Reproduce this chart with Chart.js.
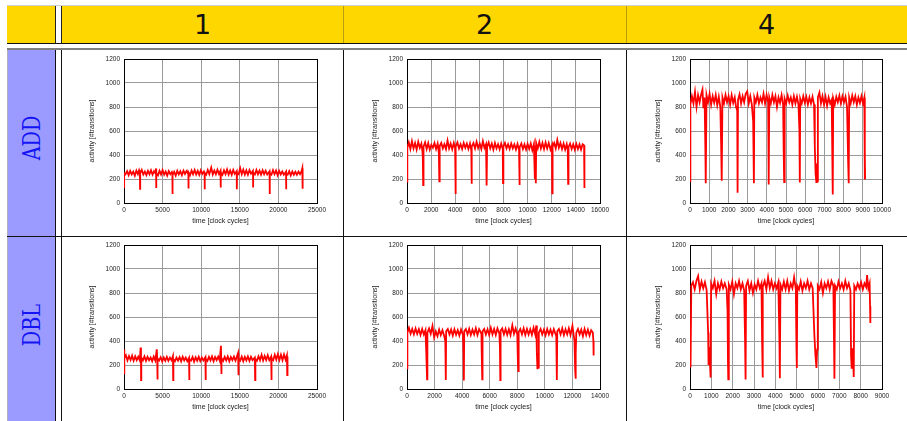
<!DOCTYPE html>
<html lang="en">
<head>
<meta charset="UTF-8">
<title>Activity traces: ADD / DBL</title>
<script src="https://cdn.jsdelivr.net/npm/chart.js"></script>
<style>
    body {
        margin: 0;
        width: 907px;
        height: 421px;
        position: relative;
        overflow: hidden;
        background: #ffffff;
        font-family: "DejaVu Sans", sans-serif;
    }
    .abs { position: absolute; }
    .hdr { left: 7px; top: 6px; width: 900px; height: 37px; background: #ffd700; }
    .hdr-top { left: 7px; top: 5px; width: 900px; height: 1px; background: #d0d0d0; }
    .hdr-bottom { left: 7px; top: 43px; width: 900px; height: 1px; background: #111; }
    .hdr-gap { left: 55px; top: 6px; width: 5px; height: 37px; background: #fff;
               border-left: 1px solid #222; border-right: 1px solid #222; }
    .hdr-sep { top: 6px; width: 1px; height: 37px; background: #b99d10; }
    .col-label { top: 6px; height: 37px; line-height: 37px; text-align: center;
                 font-size: 27px; color: #111; }
    .rule { left: 7px; top: 48px; width: 900px; height: 2px; background: #808080; }
    .side { left: 7px; top: 50px; width: 48px; height: 371px; background: #9b9bff;
            border-left: 1px solid #b0b0c0; box-sizing: border-box; }
    .vline { top: 50px; width: 1px; height: 371px; background: #111; }
    .hline { left: 7px; width: 900px; height: 1px; background: #111; }
    .row-label { font-family: "DejaVu Serif", serif; font-size: 24px; color: #1414f5;
                 white-space: nowrap; transform: translate(-50%, -50%) rotate(-90deg) scaleX(0.8); }
    canvas { position: absolute; }
</style>
</head>
<body>
<div class="abs hdr"></div>
<div class="abs hdr-top"></div>
<div class="abs hdr-bottom"></div>
<div class="abs hdr-gap"></div>
<div class="abs hdr-sep" style="left:343px"></div>
<div class="abs hdr-sep" style="left:626px"></div>
<div class="abs rule"></div>
<div class="abs side"></div>
<div class="abs vline" style="left:55px"></div>
<div class="abs vline" style="left:61px"></div>
<div class="abs vline" style="left:343px"></div>
<div class="abs vline" style="left:626px"></div>
<div class="abs hline" style="top:236px"></div>

<script>
// column / row labels
const colLabels = ['1', '2', '4'];
const rowLabels = ['ADD', 'DBL'];

// axes
const yMax = 1200, yStep = 200;
const xMaxes = [25000, 16000, 10000, 25000, 14000, 9000];
const xSteps = [5000, 2000, 1000, 5000, 2000, 1000];
const xTitle = 'time [clock cycles]';
const yTitle = 'activity [#transitions]';

// traces: [clock cycle, activity]
const add1 = [
 [0,130],[20,250],[200,240],[400,265],[600,232],[800,268],[1000,238],[1200,262],[1400,228],[1600,270],[1800,240],[1950,272],[2060,245],[2080,118],[2100,248],
 [2300,276],[2500,238],[2700,262],[2900,232],[3100,268],[3300,240],[3500,272],[3700,236],[3900,265],[4100,245],[4150,288],[4170,125],[4190,250],
 [4400,230],[4600,268],[4800,238],[5000,275],[5200,236],[5400,262],[5600,228],[5800,266],[6000,240],[6200,258],[6270,245],[6280,75],[6300,232],
 [6500,260],[6700,228],[6900,268],[7100,238],[7300,264],[7500,232],[7700,270],[7900,242],[8100,266],[8340,240],[8350,120],[8370,255],
 [8550,232],[8750,270],[8950,240],[9150,275],[9350,238],[9550,268],[9750,235],[9950,272],[10150,242],[10350,262],[10440,245],[10450,115],[10470,252],
 [10650,236],[10850,275],[11050,240],[11300,295],[11500,238],[11700,270],[11900,240],[12100,278],[12300,242],[12500,268],[12520,250],[12530,130],[12550,255],
 [12750,235],[12950,272],[13150,240],[13350,280],[13550,238],[13750,270],[13950,236],[14150,276],[14350,242],[14600,265],[14610,245],[14620,115],[14640,250],
 [14850,240],[15050,290],[15250,240],[15450,278],[15650,238],[15850,272],[16050,236],[16250,275],[16450,244],[16700,268],[16710,240],[16720,130],[16740,255],
 [16950,238],[17150,276],[17350,240],[17550,270],[17750,236],[17950,272],[18150,240],[18350,268],[18550,238],[18850,265],[18870,240],[18880,75],[18900,250],
 [19100,236],[19300,274],[19500,240],[19700,270],[19900,232],[20100,268],[20300,238],[20500,262],[20700,236],[20990,262],[21000,115],[21020,245],
 [21200,236],[21400,265],[21600,230],[21800,262],[22000,236],[22200,260],[22400,235],[22600,262],[22800,240],[23000,265],[23100,290],[23130,240],[23150,118]
];

const add2 = [
 [0,320],[15,170],[40,460],[150,505],[280,450],[410,515],[540,455],[670,500],[800,445],[930,510],[1060,460],[1190,495],[1280,430],[1310,380],[1340,150],[1370,470],
 [1500,505],[1630,450],[1760,500],[1890,445],[2020,485],[2150,460],[2280,500],[2410,450],[2540,495],[2640,420],[2680,180],[2710,475],
 [2840,500],[2970,455],[3100,490],[3230,450],[3360,520],[3490,455],[3620,495],[3750,448],[3880,500],[3990,455],[4020,75],[4050,470],
 [4180,505],[4310,455],[4440,490],[4570,450],[4700,500],[4830,460],[4960,495],[5090,450],[5220,495],[5330,440],[5350,160],[5380,470],
 [5510,500],[5640,455],[5770,510],[5900,458],[6030,495],[6160,450],[6290,515],[6420,460],[6550,490],[6590,440],[6610,145],[6640,470],
 [6770,505],[6900,455],[7030,495],[7160,445],[7290,500],[7420,455],[7550,490],[7680,448],[7810,495],[7940,450],[7960,165],[7990,470],
 [8120,500],[8250,455],[8380,490],[8510,450],[8640,495],[8770,455],[8900,488],[9030,445],[9160,492],[9290,440],[9320,150],[9350,465],
 [9480,495],[9610,450],[9740,488],[9870,445],[10000,492],[10130,450],[10260,495],[10390,440],[10520,490],[10600,200],[10630,480],[10680,165],[10710,500],
 [10840,455],[10970,510],[11100,455],[11230,500],[11360,450],[11490,505],[11620,455],[11750,500],[11900,445],[12020,480],[12040,80],[12070,470],
 [12200,500],[12330,455],[12460,525],[12590,460],[12720,500],[12850,450],[12980,495],[13110,445],[13240,490],[13330,440],[13360,160],[13390,465],
 [13520,495],[13650,450],[13780,490],[13910,445],[14040,492],[14170,450],[14300,488],[14430,445],[14560,490],[14680,480],[14700,290],[14720,125]
];

const add4 = [
 [0,350],[10,175],[30,820],[100,890],[180,830],[260,925],[340,800],[420,900],[500,840],[580,905],[650,945],[700,790],[760,880],[800,450],[810,380],[830,165],[860,900],
 [940,840],[1020,910],[1100,820],[1180,890],[1260,835],[1340,900],[1420,815],[1500,885],[1580,800],[1620,500],[1640,430],[1665,185],[1690,880],
 [1770,830],[1850,900],[1930,840],[2010,890],[2090,820],[2170,900],[2250,835],[2330,880],[2400,800],[2460,770],[2478,85],[2500,860],
 [2580,905],[2660,830],[2740,890],[2820,840],[2900,910],[2980,930],[3060,830],[3140,890],[3220,820],[3290,680],[3328,165],[3350,880],
 [3430,840],[3510,900],[3590,830],[3670,880],[3750,840],[3830,910],[3910,830],[3990,900],[4070,840],[4090,700],[4107,155],[4130,880],
 [4210,830],[4290,900],[4370,840],[4450,890],[4530,800],[4610,880],[4690,835],[4770,900],[4850,820],[4880,430],[4904,175],[4930,870],
 [5010,830],[5090,895],[5170,840],[5250,880],[5330,820],[5410,890],[5490,830],[5570,885],[5650,820],[5700,600],[5719,170],[5740,870],
 [5820,830],[5900,890],[5980,835],[6060,885],[6140,820],[6220,880],[6300,830],[6380,885],[6460,820],[6500,470],[6540,250],[6580,175],[6610,330],[6630,180],[6660,880],
 [6740,920],[6820,830],[6900,890],[6980,820],[7060,885],[7140,810],[7220,880],[7300,830],[7380,860],[7410,430],[7435,70],[7460,870],
 [7540,820],[7620,885],[7700,840],[7780,895],[7860,830],[7940,890],[8020,840],[8100,885],[8180,800],[8240,320],[8267,165],[8290,880],
 [8370,830],[8450,895],[8530,840],[8610,890],[8690,820],[8770,880],[8850,835],[8930,890],[9010,830],[9080,880],[9099,195],[9110,430],[9120,200]
];

const dbl1 = [
 [0,130],[20,330],[60,255],[250,280],[450,238],[650,275],[850,242],[1050,278],[1250,236],[1450,272],[1650,240],[1850,268],[2050,238],[2150,345],[2200,250],[2210,75],[2240,262],
 [2450,238],[2650,272],[2850,235],[3050,268],[3250,240],[3450,262],[3650,232],[3850,270],[4050,238],[4250,330],[4300,250],[4333,80],[4360,255],
 [4550,238],[4750,265],[4950,230],[5150,262],[5350,236],[5550,268],[5750,235],[5950,262],[6150,240],[6340,275],[6370,75],[6400,248],
 [6600,232],[6800,262],[7000,236],[7200,265],[7400,230],[7600,268],[7800,238],[8000,262],[8200,232],[8420,260],[8450,75],[8480,245],
 [8680,236],[8880,266],[9080,228],[9280,264],[9480,236],[9680,268],[9880,232],[10080,262],[10280,238],[10540,265],[10573,75],[10600,250],
 [10800,234],[11000,268],[11200,238],[11400,272],[11600,232],[11800,266],[12000,240],[12200,270],[12400,236],[12560,360],[12590,240],[12609,125],[12640,258],
 [12840,234],[13040,268],[13240,238],[13440,272],[13640,232],[13840,266],[14040,240],[14240,270],[14440,236],[14780,300],[14819,115],[14850,255],
 [15050,236],[15250,270],[15450,232],[15650,268],[15850,238],[16050,272],[16250,234],[16450,268],[16650,240],[16950,262],[16986,75],[17020,250],
 [17220,236],[17420,272],[17620,240],[17820,285],[18020,238],[18220,276],[18420,242],[18620,282],[18820,240],[19060,270],[19096,75],[19130,255],
 [19330,240],[19530,285],[19730,245],[19930,290],[20130,242],[20330,285],[20530,240],[20730,288],[20930,245],[21100,280],[21146,115],[21180,270]
];

const dbl2 = [
 [0,300],[15,165],[40,470],[140,510],[260,460],[380,500],[500,455],[620,505],[740,460],[860,498],[980,450],[1100,500],[1220,455],[1340,490],[1400,300],[1456,80],[1480,470],
 [1600,505],[1720,460],[1850,525],[1970,430],[2090,480],[2210,440],[2330,495],[2450,450],[2570,490],[2690,445],[2780,400],[2814,75],[2840,480],
 [2960,500],[3080,455],[3200,495],[3320,445],[3440,498],[3560,452],[3680,490],[3800,445],[3920,495],[4060,450],[4100,300],[4124,70],[4150,480],
 [4270,500],[4390,455],[4510,502],[4630,450],[4750,495],[4870,455],[4990,505],[5110,450],[5230,498],[5400,460],[5420,300],[5459,80],[5480,480],
 [5600,500],[5720,455],[5840,498],[5960,450],[6080,510],[6200,455],[6320,500],[6440,450],[6560,505],[6700,460],[6740,350],[6769,75],[6790,485],
 [6910,505],[7030,455],[7150,500],[7270,452],[7390,498],[7510,450],[7640,530],[7760,460],[7880,505],[8000,455],[8050,200],[8079,150],[8100,475],
 [8220,500],[8340,455],[8460,505],[8580,450],[8700,500],[8820,455],[8940,498],[9060,452],[9180,510],[9300,455],[9380,530],[9420,300],[9462,165],[9530,300],[9550,170],[9570,470],
 [9690,500],[9810,455],[9930,495],[10050,448],[10170,500],[10290,455],[10410,495],[10530,450],[10650,498],[10830,440],[10869,75],[10900,480],
 [11020,500],[11140,455],[11260,505],[11380,450],[11500,498],[11620,455],[11740,505],[11860,450],[12000,525],[12150,400],[12200,150],[12228,85],[12250,300],[12280,470],
 [12400,500],[12520,455],[12640,495],[12760,440],[12880,500],[13000,450],[13120,495],[13240,445],[13360,490],[13480,470],[13520,400],[13537,280]
];

const dbl4 = [
 [0,330],[15,180],[40,200],[60,860],[140,890],[220,830],[300,900],[380,940],[460,830],[540,895],[620,840],[700,890],[780,825],[850,470],[870,200],[900,350],[967,95],[990,880],
 [1070,840],[1150,900],[1230,790],[1310,880],[1390,830],[1470,895],[1550,840],[1630,880],[1720,830],[1760,650],[1780,220],[1794,80],[1820,870],
 [1900,830],[1980,895],[2060,790],[2140,880],[2220,840],[2300,900],[2380,830],[2460,880],[2540,820],[2580,420],[2605,80],[2630,860],
 [2710,900],[2790,820],[2870,880],[2950,800],[3030,870],[3110,830],[3190,900],[3270,840],[3350,880],[3380,400],[3400,95],[3420,850],
 [3500,900],[3580,830],[3660,930],[3740,840],[3820,900],[3900,830],[3980,880],[4060,840],[4140,890],[4190,420],[4212,90],[4240,870],
 [4320,830],[4400,895],[4480,830],[4560,900],[4640,820],[4720,880],[4800,840],[4880,930],[4960,830],[4990,350],[5008,175],[5030,860],
 [5110,830],[5190,895],[5270,820],[5350,880],[5430,840],[5510,900],[5590,830],[5670,880],[5750,840],[5830,450],[5880,280],[5928,175],[5960,330],[5990,860],
 [6070,830],[6150,890],[6230,800],[6310,880],[6390,840],[6470,895],[6550,830],[6630,900],[6720,860],[6750,400],[6770,85],[6800,860],
 [6880,830],[6960,895],[7040,840],[7120,880],[7200,830],[7280,900],[7360,840],[7440,880],[7520,820],[7550,280],[7581,170],[7630,340],[7675,100],[7700,860],
 [7780,830],[7860,880],[7940,840],[8020,890],[8100,830],[8180,880],[8260,850],[8300,950],[8360,840],[8420,880],[8440,690],[8455,550]
];

const traces = [add1, add2, add4, dbl1, dbl2, dbl4];

// layout of the grid of plots (pixels)
const plotLeft = [124, 407, 690];
const plotRight = [317, 600, 882];
const plotTop = [59, 245];
const plotBottom = [203, 389];
const colCenter = [202.5, 484.5, 766.5];
const rowCenter = [138, 325];
const Y_AXIS_W = 64, X_AXIS_H = 34, PAD_TOP = 8, PAD_RIGHT = 16;

// header + row labels
colLabels.forEach((t, i) => {
    const d = document.createElement('div');
    d.className = 'abs col-label';
    d.style.left = (colCenter[i] - 60) + 'px';
    d.style.width = '120px';
    d.textContent = t;
    document.body.appendChild(d);
});
rowLabels.forEach((t, i) => {
    const d = document.createElement('div');
    d.className = 'abs row-label';
    d.style.left = '32px';
    d.style.top = rowCenter[i] + 'px';
    d.textContent = t;
    document.body.appendChild(d);
});

// frame around the plot area
const frame = {
    id: 'frame',
    beforeDatasetsDraw(chart) {
        const a = chart.chartArea, c = chart.ctx;
        c.save();
        c.strokeStyle = '#000';
        c.lineWidth = 1;
        c.strokeRect(Math.round(a.left) + 0.5, Math.round(a.top) + 0.5,
                     Math.round(a.right - a.left), Math.round(a.bottom - a.top));
        c.restore();
    }
};

const tickFont = { family: 'Liberation Sans, Arial, sans-serif', size: 6.5 };
const titleFont = { family: 'Liberation Sans, Arial, sans-serif', size: 7 };

traces.forEach((trace, k) => {
    const col = k % 3, row = Math.floor(k / 3);
    const pl = plotLeft[col], pr = plotRight[col];
    const pt = plotTop[row], pb = plotBottom[row];

    const cv = document.createElement('canvas');
    const w = (pr - pl) + Y_AXIS_W + PAD_RIGHT;
    const h = (pb - pt) + PAD_TOP + X_AXIS_H;
    cv.width = w; cv.height = h;
    cv.style.left = (pl - Y_AXIS_W) + 'px';
    cv.style.top = (pt - PAD_TOP) + 'px';
    cv.style.width = w + 'px';
    cv.style.height = h + 'px';
    document.body.appendChild(cv);

    new Chart(cv.getContext('2d'), {
        type: 'scatter',
        data: {
            datasets: [{
                data: trace.map(p => ({ x: p[0], y: p[1] })),
                showLine: true,
                borderColor: '#ff0000',
                borderWidth: 1.8,
                pointRadius: 0,
                tension: 0
            }]
        },
        options: {
            responsive: false,
            animation: false,
            devicePixelRatio: 1,
            layout: { padding: { top: PAD_TOP, right: PAD_RIGHT, left: 0, bottom: 0 } },
            plugins: { legend: { display: false }, tooltip: { enabled: false } },
            scales: {
                x: {
                    type: 'linear',
                    min: 0,
                    max: xMaxes[k],
                    afterFit: s => { s.height = X_AXIS_H; },
                    ticks: {
                        stepSize: xSteps[k],
                        padding: 3,
                        color: '#222',
                        font: tickFont,
                        maxRotation: 0,
                        autoSkip: false,
                        callback: v => String(v)
                    },
                    grid: { color: '#9a9a9a', lineWidth: 1, drawTicks: false },
                    border: { display: false },
                    title: { display: true, text: xTitle, color: '#222', font: titleFont,
                             padding: { top: 0, bottom: 12 } }
                },
                y: {
                    min: 0,
                    max: yMax,
                    afterFit: s => { s.width = Y_AXIS_W; },
                    ticks: {
                        stepSize: yStep,
                        padding: 4,
                        color: '#222',
                        font: tickFont,
                        callback: v => String(v)
                    },
                    grid: { color: '#9a9a9a', lineWidth: 1, drawTicks: false },
                    border: { display: false },
                    title: { display: true, text: yTitle, color: '#222', font: titleFont,
                             padding: { top: 28, bottom: 0 } }
                }
            }
        },
        plugins: [frame]
    });
});
</script>
</body>
</html>
